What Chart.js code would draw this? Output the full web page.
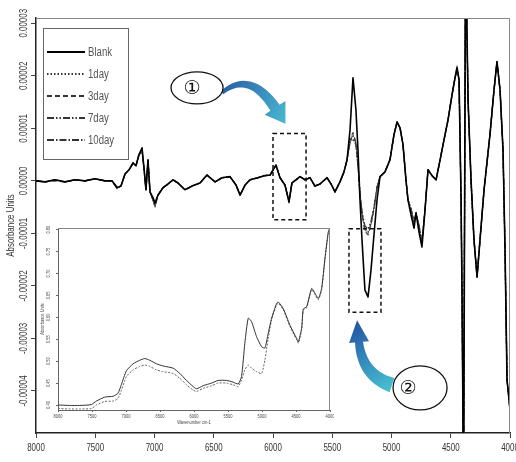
<!DOCTYPE html>
<html>
<head>
<meta charset="utf-8">
<script src="https://cdn.jsdelivr.net/npm/chart.js@4.4.1/dist/chart.umd.min.js"></script>
<style>
  html, body { margin: 0; padding: 0; background: #fff; }
  #wrap { position: relative; width: 516px; height: 462px; }
  #main { position: absolute; left: 0; top: 0; }
  #inset { position: absolute; left: 40px; top: 222px; }
</style>
</head>
<body>
<div id="wrap">
  <canvas id="main" width="516" height="462"></canvas>
  <canvas id="inset" width="294" height="206"></canvas>
</div>
<script>
// main plot: derivative spectra, y values in 1e-6 absorbance units
const wavenumbers = [8000,7924,7840,7755,7671,7586,7502,7418,7359,7316,
  7283,7249,7215,7181,7156,7131,7105,7089,7072,7055,
  7038,7013,6996,6970,6928,6886,6844,6802,6743,6684,
  6616,6557,6489,6430,6363,6312,6278,6236,6194,6127,
  6067,6025,5975,5941,5899,5865,5840,5806,5772,5730,
  5688,5646,5603,5544,5510,5477,5435,5401,5375,5350,
  5325,5300,5283,5266,5249,5224,5198,5173,5148,5122,
  5097,5055,5013,4979,4953,4928,4903,4878,4861,4835,
  4810,4793,4768,4743,4717,4692,4658,4624,4590,4557,
  4523,4489,4464,4447,4430,4413,4405,4392,4375,4354,
  4329,4304,4278,4253,4219,4169,4135,4110,4084,4059,
  4042,4025,4008,4000];

const blank = [0,-0.2,0.2,-0.2,0.2,0,0.4,0,0,-1.3,
  -1.0,1.3,2.1,3.4,2.9,5.0,6.3,2.5,-1.7,4.0,
  -2.1,-3.2,-4.2,-2.7,-1.3,-0.6,0.2,-0.4,-1.7,-1.0,
  -0.4,1.1,-0.2,0.6,0.8,-0.8,-2.7,-0.8,0.2,0.6,
  1.0,1.1,3.0,0.6,-0.8,-4.0,-0.4,0.2,0.8,0.2,
  0.6,-1.0,-0.6,0.6,-0.6,-2.1,-0.2,1.7,4.0,9.7,
  19.6,13.5,5.9,-3.6,-11.2,-20.8,-22.1,-17.0,-10.3,-3.6,
  0.8,1.7,4.0,8.8,11.2,10.1,6.9,0.2,-3.6,-6.5,
  -9.0,-6.1,-9.7,-12.6,-5.5,2.1,1.0,0.2,4.0,7.8,
  11.6,16.4,19.6,21.5,19.2,-3.6,-20.8,-60,45,15.4,
  0.2,-11.2,-18.3,-11.2,-1.7,8.8,17.3,22.7,17.3,5.9,
  -13.1,-37.9,-41.7,-43.6];

const day1 = [0,-0.2,0.2,-0.2,0.2,0,0.4,0,0,-1.3,
  -1.0,1.3,2.1,3.4,2.9,5.0,5.6,2.5,-1.7,4.0,
  -2.1,-3.6,-4.8,-2.7,-1.3,-0.6,0.2,-0.4,-1.7,-1.0,
  -0.4,1.1,-0.2,0.6,0.8,-0.8,-2.7,-0.8,0.2,0.6,
  1.0,1.1,3.0,0.6,-0.8,-4.0,-0.4,0.2,0.8,0.2,
  0.6,-1.0,-0.6,0.6,-0.6,-2.1,-0.2,1.7,4.0,7.5,
  8.5,7.0,3.0,-2.5,-6.0,-9.0,-9.7,-8.0,-5.2,-1.2,
  0.8,1.7,4.0,8.8,11.2,10.1,6.9,0.2,-3.6,-5.4,
  -7.8,-6.1,-8.6,-11.6,-5.5,2.1,1.0,0.2,4.0,7.8,
  11.6,16.4,19.6,21.5,19.2,-3.6,-20.8,-60,45,15.4,
  0.2,-11.2,-18.3,-11.2,-1.7,8.8,17.3,22.7,17.3,5.9,
  -13.1,-37.9,-41.7,-43.6];

const day3 = [0,-0.2,0.0,-0.2,0.2,0,0.4,0,0,-1.1,
  -1.0,1.3,2.1,3.4,2.9,5.0,5.9,2.5,-1.7,4.0,
  -2.1,-3.6,-4.8,-2.7,-1.3,-0.6,0.2,-0.4,-1.7,-1.0,
  -0.4,1.1,-0.2,0.6,0.8,-0.8,-2.7,-0.8,0.2,0.6,
  1.0,1.1,3.0,0.6,-0.8,-4.0,-0.4,0.2,0.8,0.2,
  0.6,-1.0,-0.6,0.6,-0.6,-2.1,-0.2,1.7,4.0,7.8,
  9.2,7.3,3.2,-2.6,-6.4,-9.6,-10.3,-8.4,-5.4,-1.3,
  0.8,1.7,4.0,8.8,11.2,10.1,6.9,0.2,-3.6,-5.6,
  -8.0,-6.1,-8.8,-11.8,-5.5,2.1,1.0,0.2,4.0,7.8,
  11.6,16.4,19.6,21.5,19.2,-3.6,-20.8,-60,45,15.4,
  0.2,-11.2,-18.3,-11.2,-1.7,8.8,17.3,22.7,17.3,5.9,
  -13.1,-37.9,-41.7,-43.6];

const day7 = [0,-0.2,0.2,-0.2,0.2,0,0.4,0,0,-1.5,
  -1.0,1.3,2.1,3.4,2.9,5.0,5.4,2.5,-1.7,4.0,
  -2.1,-3.6,-5.0,-2.7,-1.3,-0.6,0.2,-0.4,-1.7,-1.0,
  -0.4,1.1,-0.2,0.6,0.8,-0.8,-2.7,-0.8,0.2,0.6,
  1.0,1.1,3.0,0.6,-0.8,-3.8,-0.4,0.2,0.8,0.2,
  0.6,-1.0,-0.6,0.6,-0.6,-2.1,-0.2,1.7,4.0,7.2,
  8.0,6.8,2.8,-2.4,-5.8,-8.6,-9.2,-7.7,-5.0,-1.1,
  0.8,1.7,4.0,8.8,11.2,10.1,6.9,0.2,-3.6,-5.3,
  -7.6,-6.1,-8.4,-11.4,-5.5,2.1,1.0,0.2,4.0,7.8,
  11.6,16.4,19.6,21.0,19.2,-3.6,-20.8,-60,45,15.4,
  0.2,-11.2,-18.3,-11.2,-1.7,8.8,17.3,22.7,17.3,5.9,
  -13.1,-37.9,-41.7,-43.6];

const day10 = [0,-0.2,0.2,-0.2,0.2,0,0.4,0,0,-1.3,
  -1.0,1.3,2.1,3.4,2.9,5.0,5.7,2.5,-1.7,4.0,
  -2.1,-3.6,-4.6,-2.7,-1.3,-0.6,0.2,-0.4,-1.7,-1.0,
  -0.4,1.1,-0.2,0.6,0.8,-0.8,-2.7,-0.8,0.2,0.6,
  1.0,1.1,3.0,0.6,-0.8,-4.2,-0.4,0.2,0.8,0.2,
  0.6,-1.0,-0.6,0.6,-0.6,-2.1,-0.2,1.7,4.0,7.6,
  8.8,7.1,3.1,-2.5,-6.2,-9.3,-9.9,-8.2,-5.3,-1.2,
  0.8,1.7,4.0,8.8,11.2,10.1,6.9,0.2,-3.6,-5.5,
  -7.9,-6.1,-8.7,-11.7,-5.5,2.1,1.0,0.2,4.0,7.8,
  11.6,16.4,19.6,21.9,19.2,-3.6,-20.8,-60,45,15.4,
  0.2,-11.2,-18.3,-11.2,-1.7,8.8,17.3,22.3,17.3,5.9,
  -13.1,-37.9,-41.7,-43.6];

const seriesNames = ['Blank', '1day', '3day', '7day', '10day'];
const seriesValues = [blank, day1, day3, day7, day10];

const xTicks = [8000, 7500, 7000, 6500, 6000, 5500, 5000, 4500, 4000];
const xTickLabels = ['8000', '7500', '7000', '6500', '6000', '5500', '5000', '4500', '4000'];
const yTicks = [30, 20, 10, 0, -10, -20, -30, -40];
const yTickLabels = ['0.00003', '0.00002', '0.00001', '0.00000', '-0.00001', '-0.00002', '-0.00003', '-0.00004'];

// inset: raw absorbance spectra
const insetWavenumbers = [8000,7828,7681,7509,7436,7313,7190,7117,7067,6994,
  6896,6798,6724,6650,6552,6454,6307,6209,6110,6012,
  5963,5865,5742,5644,5521,5423,5350,5301,5252,5202,
  5153,5080,5006,4957,4908,4859,4785,4761,4687,4589,
  4491,4466,4417,4393,4344,4270,4221,4172,4123,4074,
  4025,4000];
const insetBlank = [0.400,0.399,0.399,0.401,0.409,0.418,0.420,0.427,0.447,0.478,
  0.494,0.502,0.506,0.502,0.494,0.489,0.484,0.472,0.456,0.442,
  0.437,0.444,0.450,0.456,0.456,0.452,0.448,0.465,0.541,0.598,
  0.590,0.556,0.533,0.530,0.564,0.598,0.632,0.635,0.620,0.582,
  0.552,0.544,0.575,0.619,0.624,0.666,0.655,0.643,0.666,0.735,
  0.795,0.805];
const insetDays = [0.392,0.391,0.391,0.392,0.400,0.408,0.409,0.415,0.434,0.465,
  0.480,0.488,0.491,0.488,0.480,0.476,0.472,0.461,0.446,0.434,
  0.431,0.438,0.444,0.450,0.450,0.446,0.442,0.457,0.480,0.491,
  0.484,0.476,0.472,0.503,0.552,0.594,0.629,0.632,0.617,0.579,
  0.549,0.541,0.572,0.617,0.621,0.663,0.652,0.640,0.663,0.732,
  0.792,0.802];
const insetXTicks = [8000, 7500, 7000, 6500, 6000, 5500, 5000, 4500, 4000];
const insetXTickLabels = ['8000', '7500', '7000', '6500', '6000', '5500', '5000', '4500', '4000'];
const insetYTicks = [0.40, 0.45, 0.50, 0.55, 0.60, 0.65, 0.70, 0.75, 0.80];
const insetYTickLabels = ['0.40', '0.45', '0.50', '0.55', '0.60', '0.65', '0.70', '0.75', '0.80'];

const lineStyles = {
  'Blank': { color: '#000', width: 1.6, dash: [] },
  '1day': { color: '#333', width: 1.2, dash: [1.5, 2] },
  '3day': { color: '#444', width: 1.2, dash: [5, 3] },
  '7day': { color: '#333', width: 1.2, dash: [7, 2, 1.5, 2, 1.5, 2] },
  '10day': { color: '#555', width: 1.2, dash: [7, 2, 1.5, 2] }
};

// callouts, placed in data coordinates (wavenumber, 1e-6 AU)
const notes = {
  boxes: [[6000, 9.0, 5721, -7.4], [5359, -9.1, 5089, -25.0]],
  ellipses: [
    { x: 6641, y: 17.7, rx: 26, ry: 16, text: '\u2460', dx: -5 },
    { x: 4759, y: -39.4, rx: 27, ry: 22, text: '\u2461', dx: -12 }
  ],
  arrows: [
    { tail: [6430, 16.8], ctrl: [6194, 21.1], base: [5983, 13.9], w0: 4, w1: 11, headW: 25, headLen: 19, c0: '#2a62a8', c1: '#4ab8d0' },
    { tail: [4996, -38.9], ctrl: [5249, -37.0], base: [5274, -30.7], w0: 15, w1: 8, headW: 20, headLen: 22, c0: '#46bccf', c1: '#2352a4' }
  ]
};

function points(xs, ys) {
  return xs.map((x, i) => ({ x: x, y: ys[i] }));
}

function squeezedText(ctx, text, x, y, angle, sx) {
  ctx.save();
  ctx.translate(x, y);
  ctx.rotate(angle);
  ctx.scale(sx, 1);
  ctx.fillText(text, 0, 0);
  ctx.restore();
}

function axisText(cfg) {
  return {
    id: 'axisText',
    beforeDraw(chart) {
      if (!cfg.background) return;
      chart.ctx.save();
      chart.ctx.fillStyle = cfg.background;
      chart.ctx.fillRect(0, 0, chart.width, chart.height);
      chart.ctx.restore();
    },
    afterDraw(chart) {
      const ctx = chart.ctx, a = chart.chartArea;
      const xs = chart.scales.x, ys = chart.scales.y;
      ctx.save();
      ctx.strokeStyle = cfg.frame;
      ctx.lineWidth = 1;
      ctx.beginPath();
      ctx.moveTo(a.left, a.top + 0.5);
      ctx.lineTo(a.right - 0.5, a.top + 0.5);
      ctx.lineTo(a.right - 0.5, a.bottom);
      ctx.stroke();
      ctx.fillStyle = cfg.color;
      ctx.textAlign = 'center';
      ctx.textBaseline = 'middle';
      ctx.font = cfg.tickFont;
      cfg.xTicks.forEach((v, i) => squeezedText(ctx, cfg.xLabels[i], xs.getPixelForValue(v), cfg.xLabelY, 0, cfg.squeeze));
      cfg.yTicks.forEach((v, i) => squeezedText(ctx, cfg.yLabels[i], cfg.yLabelX, ys.getPixelForValue(v), -Math.PI / 2, cfg.squeeze));
      ctx.font = cfg.titleFont;
      if (cfg.yTitle) squeezedText(ctx, cfg.yTitle, cfg.yTitleX, (a.top + a.bottom) / 2, -Math.PI / 2, cfg.squeeze);
      if (cfg.xTitle) squeezedText(ctx, cfg.xTitle, (a.left + a.right) / 2, cfg.xTitleY, 0, cfg.squeeze);
      ctx.restore();
    }
  };
}

const boxLegend = {
  id: 'boxLegend',
  afterDraw(chart) {
    const ctx = chart.ctx, a = chart.chartArea;
    const left = a.left + 7, top = a.top + 10, w = 85, h = 131;
    ctx.save();
    ctx.fillStyle = '#fff';
    ctx.fillRect(left, top, w, h);
    ctx.strokeStyle = '#666';
    ctx.lineWidth = 1;
    ctx.strokeRect(left + 0.5, top + 0.5, w, h);
    ctx.font = "12px 'Liberation Sans', Arial, sans-serif";
    ctx.textAlign = 'left';
    ctx.textBaseline = 'middle';
    chart.data.datasets.forEach((ds, i) => {
      const y = top + 24 + i * 22;
      ctx.strokeStyle = i === 0 ? '#000' : '#333';
      ctx.lineWidth = 2;
      ctx.setLineDash(ds.borderDash || []);
      ctx.beginPath();
      ctx.moveTo(left + 4, y);
      ctx.lineTo(left + 42, y);
      ctx.stroke();
      ctx.setLineDash([]);
      ctx.fillStyle = '#555';
      ctx.save();
      ctx.translate(left + 45, y + 1);
      ctx.scale(0.8, 1);
      ctx.fillText(ds.label, 0, 0);
      ctx.restore();
    });
    ctx.restore();
  }
};

// fat curved arrow along a quadratic curve, tapering from w0 to w1, then a head
function curvedArrow(ctx, p0, p1, p2, ar) {
  const left = [], right = [];
  const n = 16;
  for (let i = 0; i <= n; i++) {
    const t = i / n, u = 1 - t;
    const x = u * u * p0[0] + 2 * u * t * p1[0] + t * t * p2[0];
    const y = u * u * p0[1] + 2 * u * t * p1[1] + t * t * p2[1];
    let dx = 2 * u * (p1[0] - p0[0]) + 2 * t * (p2[0] - p1[0]);
    let dy = 2 * u * (p1[1] - p0[1]) + 2 * t * (p2[1] - p1[1]);
    const len = Math.hypot(dx, dy) || 1;
    dx /= len; dy /= len;
    const hw = (ar.w0 + (ar.w1 - ar.w0) * t) / 2;
    left.push([x - dy * hw, y + dx * hw]);
    right.push([x + dy * hw, y - dx * hw]);
  }
  let ex = p2[0] - p1[0], ey = p2[1] - p1[1];
  const el = Math.hypot(ex, ey) || 1;
  ex /= el; ey /= el;
  const tip = [p2[0] + ex * ar.headLen, p2[1] + ey * ar.headLen];
  const g = ctx.createLinearGradient(p0[0], p0[1], tip[0], tip[1]);
  g.addColorStop(0, ar.c0);
  g.addColorStop(1, ar.c1);
  ctx.fillStyle = g;
  ctx.beginPath();
  left.forEach((q, i) => i ? ctx.lineTo(q[0], q[1]) : ctx.moveTo(q[0], q[1]));
  ctx.lineTo(p2[0] - ey * ar.headW / 2, p2[1] + ex * ar.headW / 2);
  ctx.lineTo(tip[0], tip[1]);
  ctx.lineTo(p2[0] + ey * ar.headW / 2, p2[1] - ex * ar.headW / 2);
  for (let i = right.length - 1; i >= 0; i--) ctx.lineTo(right[i][0], right[i][1]);
  ctx.closePath();
  ctx.fill();
}

const callouts = {
  id: 'callouts',
  afterDraw(chart) {
    const ctx = chart.ctx, xs = chart.scales.x, ys = chart.scales.y;
    const pt = q => [xs.getPixelForValue(q[0]), ys.getPixelForValue(q[1])];
    ctx.save();
    ctx.strokeStyle = '#111';
    ctx.lineWidth = 1.5;
    ctx.setLineDash([4, 3]);
    notes.boxes.forEach(b => {
      const a = pt([b[0], b[1]]), c = pt([b[2], b[3]]);
      ctx.strokeRect(a[0], a[1], c[0] - a[0], c[1] - a[1]);
    });
    ctx.setLineDash([]);
    notes.arrows.forEach(ar => curvedArrow(ctx, pt(ar.tail), pt(ar.ctrl), pt(ar.base), ar));
    notes.ellipses.forEach(e => {
      const c = pt([e.x, e.y]);
      ctx.fillStyle = '#fff';
      ctx.strokeStyle = '#111';
      ctx.lineWidth = 1.3;
      ctx.beginPath();
      ctx.ellipse(c[0], c[1], e.rx, e.ry, 0, 0, Math.PI * 2);
      ctx.fill();
      ctx.stroke();
      ctx.fillStyle = '#111';
      ctx.font = "19px 'DejaVu Sans', 'Noto Sans CJK SC', sans-serif";
      ctx.textAlign = 'center';
      ctx.textBaseline = 'middle';
      ctx.fillText(e.text, c[0] + e.dx, c[1] + 1);
    });
    ctx.restore();
  }
};

const mainTextCfg = {
  frame: '#888', color: '#333', squeeze: 0.72,
  tickFont: "11px 'Liberation Sans', Arial, sans-serif",
  titleFont: "11px 'Liberation Sans', Arial, sans-serif",
  xTicks: xTicks, xLabels: xTickLabels, xLabelY: 448,
  yTicks: yTicks, yLabels: yTickLabels, yLabelX: 24,
  yTitle: 'Absorbance Units', yTitleX: 11
};

new Chart(document.getElementById('main'), {
  type: 'line',
  data: {
    datasets: seriesNames.map((name, i) => ({
      label: name,
      data: points(wavenumbers, seriesValues[i]),
      borderColor: lineStyles[name].color,
      borderWidth: lineStyles[name].width,
      borderDash: lineStyles[name].dash,
      pointRadius: 0,
      tension: 0,
      borderJoinStyle: 'round'
    }))
  },
  options: {
    responsive: false,
    animation: false,
    events: [],
    layout: { padding: { top: 18, right: 6, left: 0, bottom: 0 } },
    plugins: { legend: { display: false }, tooltip: { enabled: false } },
    scales: {
      x: {
        type: 'linear', reverse: true, min: 4000, max: 8000,
        afterBuildTicks: s => { s.ticks = xTicks.map(v => ({ value: v })); },
        afterFit: s => { s.height = 29; },
        ticks: { display: false },
        grid: { drawOnChartArea: false, tickLength: 5, color: '#444' },
        border: { color: '#222', width: 1.5 }
      },
      y: {
        type: 'linear', min: -48, max: 31,
        afterBuildTicks: s => { s.ticks = yTicks.map(v => ({ value: v })); },
        afterFit: s => { s.width = 36; },
        ticks: { display: false },
        grid: { drawOnChartArea: false, tickLength: 5, color: '#444' },
        border: { color: '#222', width: 1.5 }
      }
    }
  },
  plugins: [axisText(mainTextCfg), callouts, boxLegend]
});

const insetTextCfg = {
  background: '#fff', frame: '#888', color: '#444', squeeze: 0.8,
  tickFont: "5px 'Liberation Sans', Arial, sans-serif",
  titleFont: "5px 'Liberation Sans', Arial, sans-serif",
  xTicks: insetXTicks, xLabels: insetXTickLabels, xLabelY: 195,
  yTicks: insetYTicks, yLabels: insetYTickLabels, yLabelX: 9,
  yTitle: 'Absorbance Units', yTitleX: 3,
  xTitle: 'Wavenumber cm-1', xTitleY: 201
};

new Chart(document.getElementById('inset'), {
  type: 'line',
  data: {
    datasets: [
      { label: 'Blank', data: points(insetWavenumbers, insetBlank), borderColor: '#333', borderWidth: 1, pointRadius: 0, tension: 0.2 },
      { label: 'Stored', data: points(insetWavenumbers, insetDays), borderColor: '#666', borderWidth: 1, borderDash: [2, 1.5], pointRadius: 0, tension: 0.2 }
    ]
  },
  options: {
    responsive: false,
    animation: false,
    events: [],
    layout: { padding: { top: 6, right: 4, left: 0, bottom: 0 } },
    plugins: { legend: { display: false }, tooltip: { enabled: false } },
    scales: {
      x: {
        type: 'linear', reverse: true, min: 4000, max: 8000,
        afterBuildTicks: s => { s.ticks = insetXTicks.map(v => ({ value: v })); },
        afterFit: s => { s.height = 18; },
        ticks: { display: false },
        grid: { drawOnChartArea: false, tickLength: 2, color: '#666' },
        border: { color: '#666', width: 1 }
      },
      y: {
        type: 'linear', min: 0.3886, max: 0.8038,
        afterBuildTicks: s => { s.ticks = insetYTicks.map(v => ({ value: v })); },
        afterFit: s => { s.width = 18; },
        ticks: { display: false },
        grid: { drawOnChartArea: false, tickLength: 2, color: '#666' },
        border: { color: '#666', width: 1 }
      }
    }
  },
  plugins: [axisText(insetTextCfg)]
});
</script>
</body>
</html>
